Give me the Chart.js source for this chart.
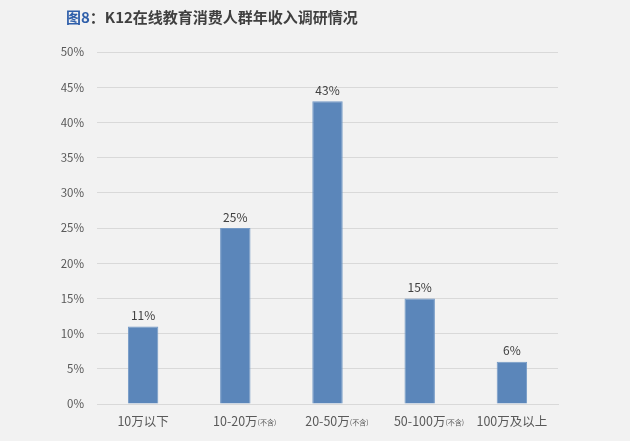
<!DOCTYPE html>
<html>
<head>
<meta charset="utf-8">
<script src="https://cdn.jsdelivr.net/npm/chart.js@4.4.1/dist/chart.umd.min.js"></script>
<style>
  html, body { margin: 0; padding: 0; background: #f2f2f2; }
  #wrap { width: 630px; height: 441px; }
</style>
</head>
<body>
<div id="wrap"><canvas id="chart" width="630" height="441"></canvas></div>
<script>
// categories: main text + small suffix
const categories = ['10万以下', '10-20万', '20-50万', '50-100万', '100万及以上'];
const categoryNotes = ['', '(不含)', '(不含)', '(不含)', ''];
const shares = [11, 25, 43, 15, 6];
const yTicks = [0, 5, 10, 15, 20, 25, 30, 35, 40, 45, 50];

const FONT = '"Noto Sans CJK SC", "Liberation Sans", sans-serif';
const TEXT = '#595959';

// title with a blue "图8" prefix
const titlePlugin = {
  id: 'titleText',
  afterDraw(chart) {
    const ctx = chart.ctx;
    ctx.save();
    ctx.font = 'bold 15px ' + FONT;
    ctx.textBaseline = 'middle';
    ctx.textAlign = 'left';
    let x = 66;
    const y = 17;
    ctx.fillStyle = '#2f5faa';
    ctx.fillText('图8', x, y);
    x += ctx.measureText('图8').width;
    ctx.fillStyle = '#404040';
    ctx.fillText('：K12在线教育消费人群年收入调研情况', x, y);
    ctx.restore();
  }
};

// x labels: main text centred on tick, small note appended
const xLabelPlugin = {
  id: 'xLabels',
  afterDraw(chart) {
    const ctx = chart.ctx;
    const xs = chart.scales.x;
    const y = chart.chartArea.bottom + 17;
    ctx.save();
    ctx.textBaseline = 'middle';
    categories.forEach((c, i) => {
      const cx = xs.getPixelForValue(i);
      ctx.font = '12.5px ' + FONT;
      ctx.fillStyle = TEXT;
      ctx.textAlign = 'center';
      ctx.fillText(c, cx, y);
      if (categoryNotes[i]) {
        const w = ctx.measureText(c).width;
        ctx.font = '7px ' + FONT;
        ctx.textAlign = 'left';
        ctx.fillText(categoryNotes[i], cx + w / 2, y + 1);
      }
    });
    ctx.restore();
  }
};

// value labels above bars
const valuePlugin = {
  id: 'values',
  afterDatasetsDraw(chart) {
    const ctx = chart.ctx;
    const meta = chart.getDatasetMeta(0);
    ctx.save();
    ctx.font = '12px ' + FONT;
    ctx.fillStyle = '#404040';
    ctx.textAlign = 'center';
    ctx.textBaseline = 'bottom';
    meta.data.forEach((bar, i) => {
      ctx.fillText(shares[i] + '%', bar.x, bar.y - 5);
    });
    ctx.restore();
  }
};

new Chart(document.getElementById('chart'), {
  type: 'bar',
  data: {
    labels: categories,
    datasets: [{
      data: shares,
      backgroundColor: '#5b86ba',
      borderColor: '#7399c6',
      borderWidth: 1,
      categoryPercentage: 1,
      barPercentage: 0.33
    }]
  },
  options: {
    responsive: false,
    animation: false,
    devicePixelRatio: 1,
    layout: { padding: { left: 0, right: 72, top: 52, bottom: 7 } },
    plugins: {
      legend: { display: false },
      tooltip: { enabled: false }
    },
    scales: {
      x: {
        grid: { display: false },
        border: { color: '#d9d9d9' },
        ticks: { display: false },
        afterFit(scale) { scale.height = 30; }
      },
      y: {
        min: 0,
        max: 50,
        afterBuildTicks(scale) { scale.ticks = yTicks.map(v => ({ value: v })); },
        afterFit(scale) { scale.width = 97; },
        grid: { color: '#d9d9d9', drawTicks: false },
        border: { display: false },
        ticks: {
          padding: 13,
          color: TEXT,
          font: { family: FONT, size: 11.5 },
          callback: v => v + '%'
        }
      }
    }
  },
  plugins: [titlePlugin, xLabelPlugin, valuePlugin]
});
</script>
</body>
</html>
